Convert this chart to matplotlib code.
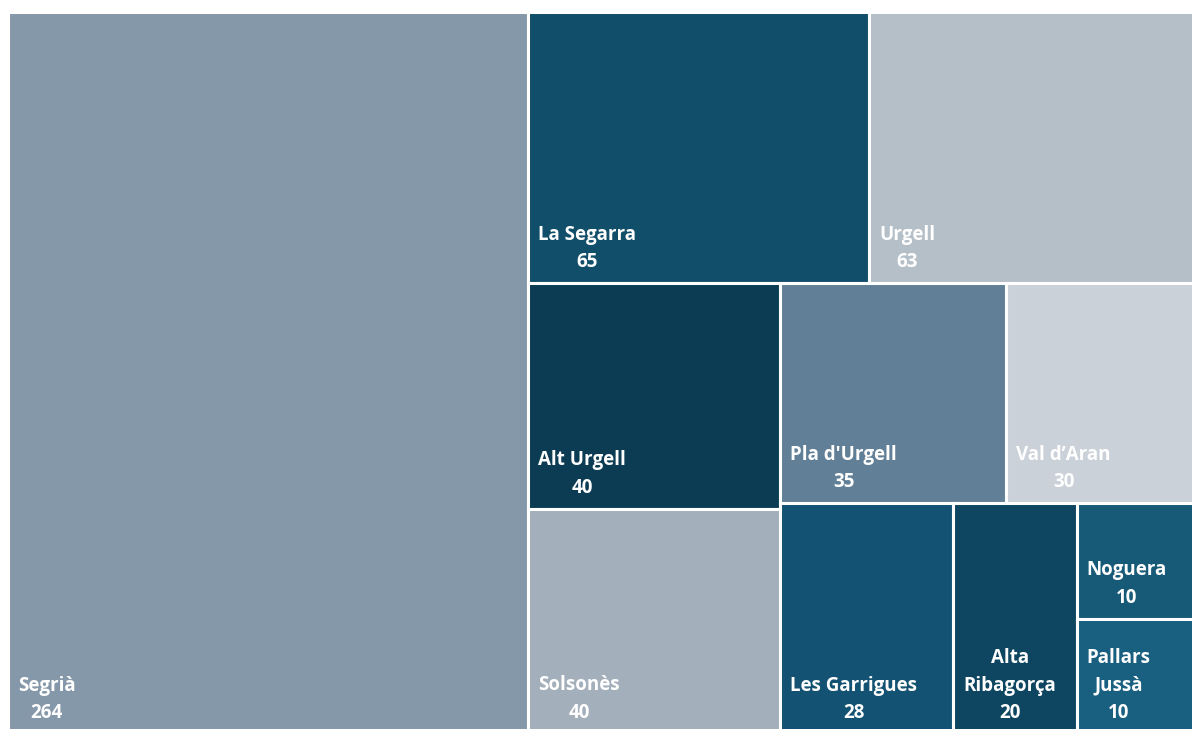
import matplotlib
matplotlib.use("Agg")
import matplotlib.pyplot as plt
from matplotlib.patches import Rectangle

# treemap data (already sorted descending)
names = ["Segrià", "La Segarra", "Urgell", "Alt Urgell", "Solsonès", "Pla d'Urgell",
         "Val d\u2019Aran", "Les Garrigues", "Alta\nRibagorça", "Noguera", "Pallars\nJussà"]
values = [264, 65, 63, 40, 40, 35, 30, 28, 20, 10, 10]
colors = ["#8598a9", "#104e6a", "#b5bfc8", "#0b3c53", "#a3afba", "#617f96",
          "#cbd1d8", "#135272", "#0e4560", "#165a78", "#185f80"]

W, H = 1192.0, 722.0


def worst(row, side):
    s = sum(row)
    return max(max(side * side * r / (s * s), s * s / (side * side * r)) for r in row)


def squarify(areas, x, y, w, h):
    rects = []
    areas = list(areas)
    while areas:
        side = min(w, h)
        row = [areas[0]]
        i = 1
        while i < len(areas) and worst(row + [areas[i]], side) <= worst(row, side):
            row.append(areas[i])
            i += 1
        areas = areas[i:]
        s = sum(row)
        if w >= h:
            # column along the left
            cw = s / h
            yy = y
            for a in row:
                rh = a / cw
                rects.append((x, yy, cw, rh))
                yy += rh
            x += cw
            w -= cw
        else:
            # row along the top
            rh = s / w
            xx = x
            for a in row:
                rw = a / rh
                rects.append((xx, y, rw, rh))
                xx += rw
            y += rh
            h -= rh
    return rects


total = sum(values)
areas = [v * W * H / total for v in values]
rects = squarify(areas, 0, 0, W, H)

fig = plt.figure(figsize=(11.92, 7.29), dpi=100)
# the plot area runs a little past the right and bottom edges, as in the source
ax = fig.add_axes([8 / 1192, -5 / 729, W / 1192, H / 729])
ax.set_xlim(0, W)
ax.set_ylim(H, 0)
ax.axis("off")

for (x, y, w, h), name, val, col in zip(rects, names, values, colors):
    ax.add_patch(Rectangle((x, y), w, h, facecolor=col, edgecolor="white", linewidth=2.2))
    ax.text(x + 10, y + h - 11, f"{name}\n{val}", color="white", fontsize=13.5,
            fontweight="bold", family="Open Sans", ha="left", va="bottom",
            multialignment="center", linespacing=1.5)

fig.savefig("out.png", dpi=100, facecolor="white")
